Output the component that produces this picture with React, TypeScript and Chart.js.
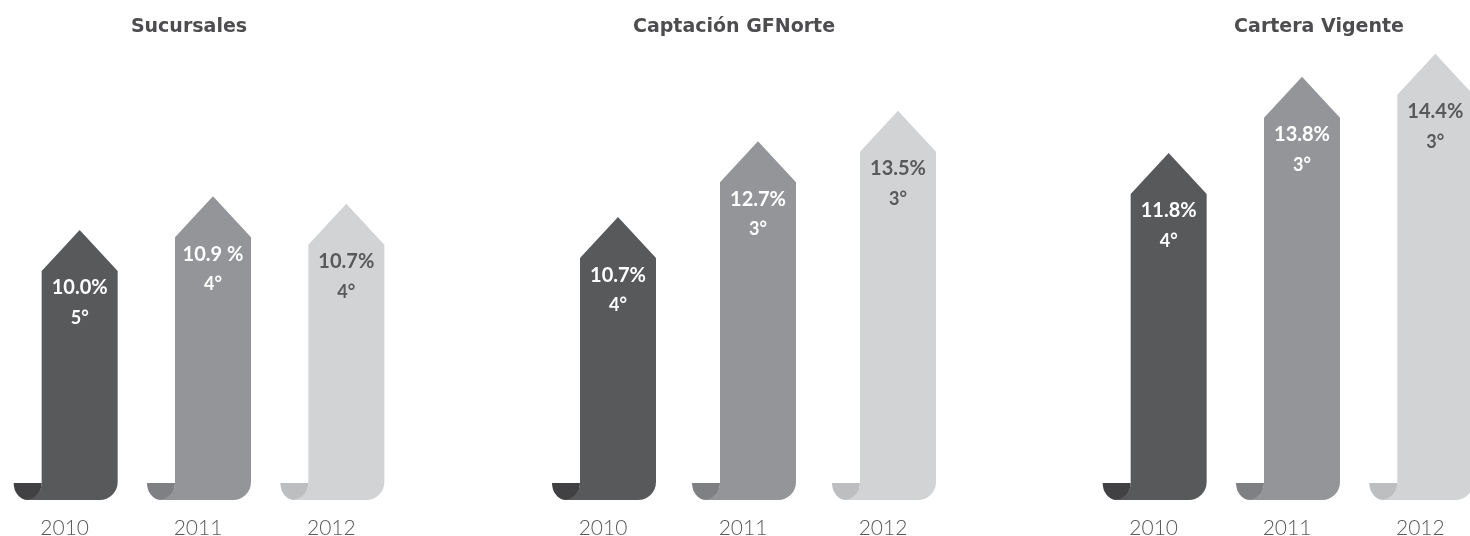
import React, { useEffect, useRef } from 'react';
import { Chart, registerables } from 'chart.js';

Chart.register(...registerables);

// ---- data ----
const years = ['2010', '2011', '2012'];
const titles = ['Sucursales', 'Captación GFNorte', 'Cartera Vigente'];

const sucursales = [10.0, 10.9, 10.7];
const captacion = [10.7, 12.7, 13.5];
const cartera = [11.8, 13.8, 14.4];

const sucursalesText = ['10.0%', '10.9 %', '10.7%'];
const captacionText = ['10.7%', '12.7%', '13.5%'];
const carteraText = ['11.8%', '13.8%', '14.4%'];

const sucursalesRank = ['5°', '4°', '4°'];
const captacionRank = ['4°', '3°', '3°'];
const carteraRank = ['4°', '3°', '3°'];

// ---- styles ----
const BODY = ['#58595b', '#939598', '#d1d3d4'];
const CURL = ['#414042', '#7e8083', '#bcbec0'];
const INK = ['#ffffff', '#ffffff', '#58595b'];
const FONT = 'Lato, "Open Sans", "DejaVu Sans", sans-serif';
const TITLE_FONT = '"DejaVu Sans", Lato, sans-serif';

type Panel = {
  title: string;
  values: number[];
  text: string[];
  rank: string[];
  yMin: number;
  yMax: number;
  left: number;
  width: number;
  axisW: number;
  axisPos: 'left' | 'right';
};

const panels: Panel[] = [
  { title: titles[0], values: sucursales, text: sucursalesText, rank: sucursalesRank, yMin: 2.8, yMax: 14.8, left: -35, width: 448, axisW: 48, axisPos: 'left' },
  { title: titles[1], values: captacion, text: captacionText, rank: captacionRank, yMin: 3.25, yMax: 15.1, left: 500, width: 468, axisW: 48, axisPos: 'left' },
  { title: titles[2], values: cartera, text: carteraText, rank: carteraRank, yMin: 2.7, yMax: 14.5, left: 1102, width: 434, axisW: 34, axisPos: 'right' },
];

const HEIGHT = 536;

function makeArrowPlugin(text: string[], rank: string[]) {
  return {
    id: 'arrows',
    beforeDatasetDraw: () => false,
    afterDatasetsDraw(chart: any) {
      const ctx: CanvasRenderingContext2D = chart.ctx;
      const meta = chart.getDatasetMeta(0);
      meta.data.forEach((el: any, i: number) => {
        const { x, y, base, width } = el.getProps(['x', 'y', 'base', 'width'], true);
        const L = x - width / 2;
        const R = x + width / 2;
        const head = 41;
        const sh = y + head;
        const r = 17;
        const rr = 18;
        ctx.save();
        // curl
        ctx.beginPath();
        ctx.moveTo(L - 28, base - r);
        ctx.lineTo(L, base - r);
        ctx.ellipse(L - 14, base - r, 14, r, 0, 0, Math.PI, false);
        ctx.closePath();
        ctx.fillStyle = CURL[i];
        ctx.fill();
        // body + arrow head
        ctx.beginPath();
        ctx.moveTo(x, y);
        ctx.lineTo(R, sh);
        ctx.lineTo(R, base - rr);
        ctx.arc(R - rr, base - rr, rr, 0, Math.PI / 2, false);
        ctx.lineTo(L - r, base);
        ctx.arc(L - r, base - r, r, Math.PI / 2, 0, true);
        ctx.lineTo(L, sh);
        ctx.closePath();
        ctx.fillStyle = BODY[i];
        ctx.fill();
        // labels
        ctx.fillStyle = INK[i];
        ctx.textAlign = 'center';
        ctx.textBaseline = 'middle';
        ctx.font = `bold 20px ${FONT}`;
        ctx.fillText(text[i], x, sh + 17);
        ctx.font = `bold 18px ${FONT}`;
        ctx.fillText(rank[i], x, sh + 47);
        ctx.restore();
      });
    },
  };
}

function ArrowPanel({ p }: { p: Panel }) {
  const ref = useRef<HTMLCanvasElement | null>(null);
  useEffect(() => {
    if (!ref.current) return;
    const chart = new Chart(ref.current, {
      type: 'bar',
      data: {
        labels: years,
        datasets: [
          {
            data: p.values,
            base: p.yMin,
            backgroundColor: BODY,
            barThickness: 76,
          },
        ],
      },
      options: {
        responsive: false,
        animation: false,
        devicePixelRatio: 1,
        layout: { padding: 0 },
        plugins: {
          legend: { display: false },
          tooltip: { enabled: false },
          title: {
            display: true,
            text: p.title,
            color: '#4d4d4f',
            font: { family: TITLE_FONT, size: 19, weight: 'bold', lineHeight: 1.2 },
            padding: { top: 16, bottom: 11.2 },
          },
        },
        scales: {
          x: {
            grid: { display: false },
            border: { display: false },
            ticks: {
              color: '#58595b',
              font: { family: FONT, size: 21, weight: 300 },
              padding: 8,
              labelOffset: -15,
            },
            afterFit: (s: any) => {
              s.height = 36;
            },
          },
          y: {
            position: p.axisPos,
            min: p.yMin,
            max: p.yMax,
            grid: { display: false },
            border: { display: false },
            ticks: { display: false },
            afterFit: (s: any) => {
              s.width = p.axisW;
            },
          },
        },
      },
      plugins: [makeArrowPlugin(p.text, p.rank)],
    } as any);
    return () => chart.destroy();
  }, [p]);
  return (
    <canvas
      ref={ref}
      width={p.width}
      height={HEIGHT}
      style={{ position: 'absolute', left: p.left, top: 0, width: p.width, height: HEIGHT }}
    />
  );
}

export default function App() {
  return (
    <div
      style={{
        position: 'absolute',
        left: 0,
        top: 0,
        width: 1470,
        height: HEIGHT,
        overflow: 'hidden',
        background: '#ffffff',
      }}
    >
      {panels.map((p, i) => (
        <ArrowPanel key={i} p={p} />
      ))}
    </div>
  );
}
